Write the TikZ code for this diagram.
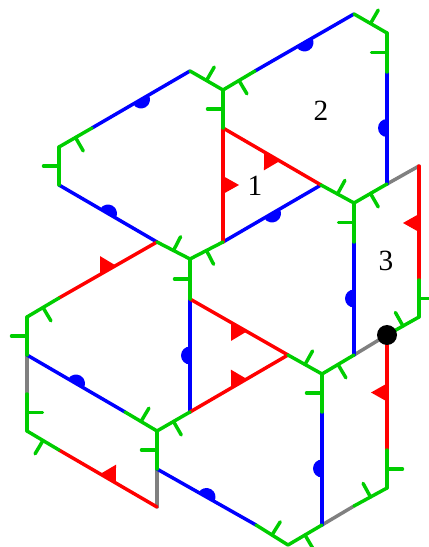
\documentclass[tikz,border=0pt]{standalone}
\usepackage{fontspec}
\setmainfont{Liberation Serif}
\usepackage{xcolor}
\usetikzlibrary{positioning}
\definecolor{edgegreen}{RGB}{0,205,0}
\definecolor{edgeblue}{RGB}{0,0,255}
\definecolor{edgered}{RGB}{255,0,0}
\definecolor{edgegray}{RGB}{128,128,128}
\tikzset{
  greenedge/.style={line width=2.6pt, edgegreen, line cap=round},
  blueedge/.style={line width=2.6pt, edgeblue, line cap=round},
  rededge/.style={line width=2.6pt, edgered, line cap=round},
  grayedge/.style={line width=2.6pt, edgegray, line cap=round},
  onseg/.style={pos=.5, sloped, allow upside down},
  hash/.pic={\draw[line width=2.6pt, edgegreen] (0,0)--(0,15.5);},
  bump/.pic={\fill[edgeblue] (-9,0) arc[start angle=180,end angle=0,radius=9] -- cycle;},
  flag/.pic={\fill[edgered] (-9,0)--(9,0)--(0,16) -- cycle;},
  facelabel/.style={font=\fontsize{22}{24}\selectfont, inner sep=0pt},
  junction/.style={circle, fill=black, inner sep=0pt, minimum size=15pt}
}
\begin{document}
\begin{tikzpicture}[x=.75pt,y=.75pt]
  \useasboundingbox (0,0) rectangle (429,547);
  % Corners, left to right
  \coordinate (a) at (27,192); \coordinate (b) at (27,230); \coordinate (c) at (27,153); \coordinate (d) at (27,116);
  \coordinate (e) at (59,400); \coordinate (f) at (59,362); \coordinate (g) at (59,249); \coordinate (h) at (59,97);
  \coordinate (i) at (92,419); \coordinate (j) at (125,135);
  \coordinate (k) at (157,305); \coordinate (l) at (157,116); \coordinate (m) at (157,78); \coordinate (n) at (157,40);
  \coordinate (o) at (190,476); \coordinate (p) at (190,288); \coordinate (q) at (190,248); \coordinate (r) at (190,135);
  \coordinate (s) at (223,457); \coordinate (t) at (223,419); \coordinate (u) at (223,305);
  \coordinate (v) at (255,476); \coordinate (w) at (256,22);
  \coordinate (x) at (288,192); \coordinate (y) at (288,2);
  \coordinate (aa) at (321,362); \coordinate (ab) at (322,173); \coordinate (ac) at (322,135); \coordinate (ad) at (322,22);
  \coordinate (ae) at (354,533); \coordinate (af) at (354,344); \coordinate (ag) at (354,305); \coordinate (ah) at (354,192); \coordinate (ai) at (354,41);
  \coordinate (aj) at (387,514); \coordinate (ak) at (387,475); \coordinate (al) at (387,363); \coordinate (am) at (387,212); \coordinate (an) at (387,97); \coordinate (ao) at (387,59);
  \coordinate (ap) at (419,381); \coordinate (aq) at (419,267); \coordinate (ar) at (419,230);

  % Gray edges
  \draw[grayedge] (al)--(ap); \draw[grayedge] (ah)--(am);
  \draw[grayedge] (a)--(c); \draw[grayedge] (m)--(n);
  \draw[grayedge] (ad)--(ai);

  % Blue edges
  \draw[blueedge] (o)-- pic[onseg]{bump} (i);
  \draw[blueedge] (f)-- pic[onseg]{bump} (k);
  \draw[blueedge] (ae)-- pic[onseg]{bump} (v);
  \draw[blueedge] (al)-- pic[onseg]{bump} (ak);
  \draw[blueedge] (aa)-- pic[onseg]{bump} (u);
  \draw[blueedge] (ah)-- pic[onseg]{bump} (ag);
  \draw[blueedge] (r)-- pic[onseg]{bump} (q);
  \draw[blueedge] (a)-- pic[onseg]{bump} (j);
  \draw[blueedge] (ad)-- pic[onseg]{bump} (ac);
  \draw[blueedge] (m)-- pic[onseg]{bump} (w);

  % Red edges
  \draw[rededge] (t)-- pic[onseg]{flag} (u);
  \draw[rededge] (aa)-- pic[onseg]{flag} (t);
  \draw[rededge] (g)-- pic[onseg]{flag} (k);
  \draw[rededge] (x)-- pic[onseg]{flag} (q);
  \draw[rededge] (r)-- pic[onseg]{flag} (x);
  \draw[rededge] (aq)-- pic[onseg]{flag} (ap);
  \draw[rededge] (an)-- pic[onseg]{flag} (am);
  \draw[rededge] (h)-- pic[onseg]{flag} (n);

  % Green edges
  \draw[greenedge] (i)-- pic[onseg]{hash} (e); \draw[greenedge] (f)-- pic[onseg]{hash} (e);
  \draw[greenedge] (o)-- pic[onseg]{hash} (s); \draw[greenedge] (t)-- pic[onseg]{hash} (s);
  \draw[greenedge] (v)-- pic[onseg]{hash} (s);
  \draw[greenedge] (ae)-- pic[onseg]{hash} (aj); \draw[greenedge] (ak)-- pic[onseg]{hash} (aj);
  \draw[greenedge] (aa)-- pic[onseg]{hash} (af); \draw[greenedge] (al)-- pic[onseg]{hash} (af);
  \draw[greenedge] (ag)-- pic[onseg]{hash} (af);
  \draw[greenedge] (k)-- pic[onseg]{hash} (p); \draw[greenedge] (u)-- pic[onseg]{hash} (p);
  \draw[greenedge] (q)-- pic[onseg]{hash} (p);
  \draw[greenedge] (g)-- pic[onseg]{hash} (b); \draw[greenedge] (a)-- pic[onseg]{hash} (b);
  \draw[greenedge] (c)-- pic[onseg]{hash} (d); \draw[greenedge] (h)-- pic[onseg]{hash} (d);
  \draw[greenedge] (j)-- pic[onseg]{hash} (l); \draw[greenedge] (r)-- pic[onseg]{hash} (l);
  \draw[greenedge] (m)-- pic[onseg]{hash} (l);
  \draw[greenedge] (x)-- pic[onseg]{hash} (ab); \draw[greenedge] (ah)-- pic[onseg]{hash} (ab);
  \draw[greenedge] (ac)-- pic[onseg]{hash} (ab);
  \draw[greenedge] (aq)-- pic[onseg]{hash} (ar); \draw[greenedge] (am)-- pic[onseg]{hash} (ar);
  \draw[greenedge] (an)-- pic[onseg]{hash} (ao); \draw[greenedge] (ai)-- pic[onseg]{hash} (ao);
  \draw[greenedge] (w)-- pic[onseg]{hash} (y); \draw[greenedge] (ad)-- pic[onseg]{hash} (y);

  % Marked corner and faces
  \node[junction] (dot) at (am) {};
  \node[facelabel] (one) at (255,361) {1};
  \node[facelabel] (two) at (321,436) {2};
  \node[facelabel] (three) at (386,286) {3};
\end{tikzpicture}
\end{document}
